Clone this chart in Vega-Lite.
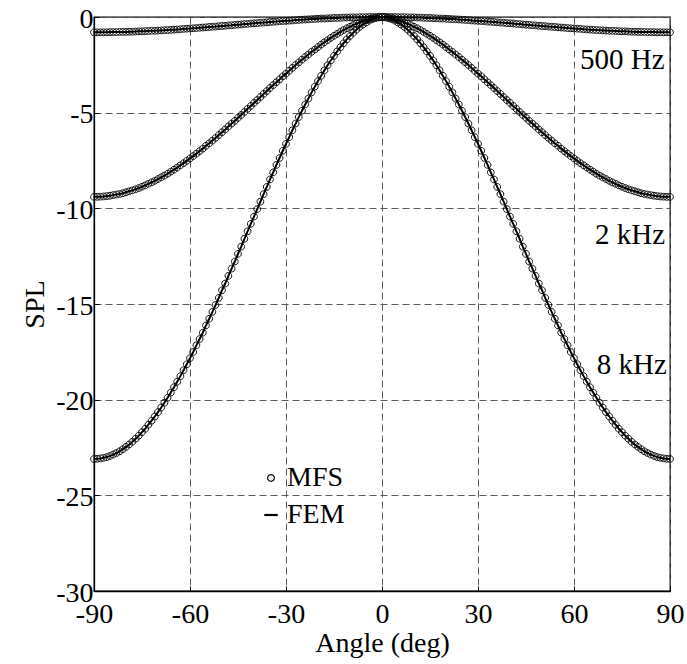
{
"$schema": "https://vega.github.io/schema/vega-lite/v6.json",
"width": 576,
"height": 574,
"autosize": "none",
"padding": {"left": 94, "top": 17, "right": 17, "bottom": 73},
"background": "white",
"config": {
  "font": "Liberation Serif",
  "view": {"stroke": "black", "strokeWidth": 1.3},
  "axis": {
    "domainColor": "black", "domainWidth": 1.3,
    "grid": true, "gridColor": "#5a5a5a", "gridDash": [7, 4], "gridWidth": 1,
    "tickColor": "black", "tickSize": -5, "tickWidth": 1,
    "labelFont": "Liberation Serif", "labelFontSize": 28, "labelColor": "black",
    "titleFont": "Liberation Serif", "titleFontSize": 28, "titleFontWeight": "normal", "titleColor": "black"
  },
  "legend": {"labelFont": "Liberation Serif", "labelFontSize": 28, "labelColor": "black"}
},
"datasets": {
  "curves": [
{"a":-90,"p":-0.8,"q":-9.4,"r":-23.1},
{"a":-89,"p":-0.8,"q":-9.4,"r":-23.09},
{"a":-88,"p":-0.8,"q":-9.39,"r":-23.07},
{"a":-87,"p":-0.8,"q":-9.38,"r":-23.04},
{"a":-86,"p":-0.8,"q":-9.36,"r":-23},
{"a":-85,"p":-0.79,"q":-9.34,"r":-22.94},
{"a":-84,"p":-0.79,"q":-9.31,"r":-22.87},
{"a":-83,"p":-0.79,"q":-9.28,"r":-22.79},
{"a":-82,"p":-0.78,"q":-9.25,"r":-22.7},
{"a":-81,"p":-0.78,"q":-9.21,"r":-22.59},
{"a":-80,"p":-0.78,"q":-9.16,"r":-22.47},
{"a":-79,"p":-0.77,"q":-9.11,"r":-22.34},
{"a":-78,"p":-0.77,"q":-9.06,"r":-22.2},
{"a":-77,"p":-0.76,"q":-9,"r":-22.04},
{"a":-76,"p":-0.75,"q":-8.94,"r":-21.88},
{"a":-75,"p":-0.75,"q":-8.87,"r":-21.7},
{"a":-74,"p":-0.74,"q":-8.8,"r":-21.52},
{"a":-73,"p":-0.73,"q":-8.72,"r":-21.31},
{"a":-72,"p":-0.72,"q":-8.64,"r":-21.1},
{"a":-71,"p":-0.72,"q":-8.56,"r":-20.88},
{"a":-70,"p":-0.71,"q":-8.47,"r":-20.65},
{"a":-69,"p":-0.7,"q":-8.38,"r":-20.41},
{"a":-68,"p":-0.69,"q":-8.29,"r":-20.16},
{"a":-67,"p":-0.68,"q":-8.19,"r":-19.9},
{"a":-66,"p":-0.67,"q":-8.08,"r":-19.63},
{"a":-65,"p":-0.66,"q":-7.98,"r":-19.35},
{"a":-64,"p":-0.65,"q":-7.87,"r":-19.06},
{"a":-63,"p":-0.64,"q":-7.75,"r":-18.77},
{"a":-62,"p":-0.62,"q":-7.64,"r":-18.46},
{"a":-61,"p":-0.61,"q":-7.52,"r":-18.15},
{"a":-60,"p":-0.6,"q":-7.39,"r":-17.83},
{"a":-59,"p":-0.59,"q":-7.27,"r":-17.51},
{"a":-58,"p":-0.58,"q":-7.14,"r":-17.16},
{"a":-57,"p":-0.56,"q":-7.01,"r":-16.83},
{"a":-56,"p":-0.55,"q":-6.88,"r":-16.5},
{"a":-55,"p":-0.54,"q":-6.73,"r":-16.12},
{"a":-54,"p":-0.52,"q":-6.6,"r":-15.77},
{"a":-53,"p":-0.51,"q":-6.46,"r":-15.41},
{"a":-52,"p":-0.5,"q":-6.32,"r":-15.05},
{"a":-51,"p":-0.48,"q":-6.17,"r":-14.68},
{"a":-50,"p":-0.47,"q":-6.02,"r":-14.28},
{"a":-49,"p":-0.46,"q":-5.88,"r":-13.93},
{"a":-48,"p":-0.44,"q":-5.72,"r":-13.53},
{"a":-47,"p":-0.43,"q":-5.57,"r":-13.15},
{"a":-46,"p":-0.41,"q":-5.43,"r":-12.78},
{"a":-45,"p":-0.4,"q":-5.27,"r":-12.38},
{"a":-44,"p":-0.39,"q":-5.12,"r":-12},
{"a":-43,"p":-0.37,"q":-4.96,"r":-11.59},
{"a":-42,"p":-0.36,"q":-4.8,"r":-11.2},
{"a":-41,"p":-0.34,"q":-4.65,"r":-10.81},
{"a":-40,"p":-0.33,"q":-4.49,"r":-10.43},
{"a":-39,"p":-0.32,"q":-4.34,"r":-10.04},
{"a":-38,"p":-0.3,"q":-4.18,"r":-9.65},
{"a":-37,"p":-0.29,"q":-4.02,"r":-9.26},
{"a":-36,"p":-0.28,"q":-3.87,"r":-8.88},
{"a":-35,"p":-0.26,"q":-3.71,"r":-8.49},
{"a":-34,"p":-0.25,"q":-3.56,"r":-8.12},
{"a":-33,"p":-0.24,"q":-3.41,"r":-7.73},
{"a":-32,"p":-0.22,"q":-3.26,"r":-7.37},
{"a":-31,"p":-0.21,"q":-3.1,"r":-6.99},
{"a":-30,"p":-0.2,"q":-2.96,"r":-6.63},
{"a":-29,"p":-0.19,"q":-2.81,"r":-6.28},
{"a":-28,"p":-0.18,"q":-2.66,"r":-5.92},
{"a":-27,"p":-0.16,"q":-2.51,"r":-5.57},
{"a":-26,"p":-0.15,"q":-2.37,"r":-5.23},
{"a":-25,"p":-0.14,"q":-2.23,"r":-4.9},
{"a":-24,"p":-0.13,"q":-2.09,"r":-4.57},
{"a":-23,"p":-0.12,"q":-1.96,"r":-4.26},
{"a":-22,"p":-0.11,"q":-1.82,"r":-3.94},
{"a":-21,"p":-0.1,"q":-1.7,"r":-3.64},
{"a":-20,"p":-0.09,"q":-1.57,"r":-3.35},
{"a":-19,"p":-0.08,"q":-1.44,"r":-3.07},
{"a":-18,"p":-0.08,"q":-1.32,"r":-2.79},
{"a":-17,"p":-0.07,"q":-1.21,"r":-2.52},
{"a":-16,"p":-0.06,"q":-1.09,"r":-2.27},
{"a":-15,"p":-0.05,"q":-0.98,"r":-2.03},
{"a":-14,"p":-0.05,"q":-0.88,"r":-1.8},
{"a":-13,"p":-0.04,"q":-0.78,"r":-1.58},
{"a":-12,"p":-0.03,"q":-0.68,"r":-1.37},
{"a":-11,"p":-0.03,"q":-0.59,"r":-1.17},
{"a":-10,"p":-0.02,"q":-0.51,"r":-0.99},
{"a":-9,"p":-0.02,"q":-0.42,"r":-0.82},
{"a":-8,"p":-0.02,"q":-0.35,"r":-0.66},
{"a":-7,"p":-0.01,"q":-0.28,"r":-0.52},
{"a":-6,"p":-0.01,"q":-0.22,"r":-0.4},
{"a":-5,"p":-0.01,"q":-0.16,"r":-0.29},
{"a":-4,"p":0,"q":-0.11,"r":-0.19},
{"a":-3,"p":0,"q":-0.07,"r":-0.11},
{"a":-2,"p":0,"q":-0.04,"r":-0.06},
{"a":-1,"p":0,"q":-0.01,"r":-0.02},
{"a":0,"p":0,"q":0,"r":0},
{"a":1,"p":0,"q":-0.01,"r":-0.02},
{"a":2,"p":0,"q":-0.04,"r":-0.06},
{"a":3,"p":0,"q":-0.07,"r":-0.11},
{"a":4,"p":0,"q":-0.11,"r":-0.19},
{"a":5,"p":-0.01,"q":-0.16,"r":-0.29},
{"a":6,"p":-0.01,"q":-0.22,"r":-0.4},
{"a":7,"p":-0.01,"q":-0.28,"r":-0.52},
{"a":8,"p":-0.02,"q":-0.35,"r":-0.66},
{"a":9,"p":-0.02,"q":-0.42,"r":-0.82},
{"a":10,"p":-0.02,"q":-0.51,"r":-0.99},
{"a":11,"p":-0.03,"q":-0.59,"r":-1.17},
{"a":12,"p":-0.03,"q":-0.68,"r":-1.37},
{"a":13,"p":-0.04,"q":-0.78,"r":-1.58},
{"a":14,"p":-0.05,"q":-0.88,"r":-1.8},
{"a":15,"p":-0.05,"q":-0.98,"r":-2.03},
{"a":16,"p":-0.06,"q":-1.09,"r":-2.27},
{"a":17,"p":-0.07,"q":-1.21,"r":-2.52},
{"a":18,"p":-0.08,"q":-1.32,"r":-2.79},
{"a":19,"p":-0.08,"q":-1.44,"r":-3.07},
{"a":20,"p":-0.09,"q":-1.57,"r":-3.35},
{"a":21,"p":-0.1,"q":-1.7,"r":-3.64},
{"a":22,"p":-0.11,"q":-1.82,"r":-3.94},
{"a":23,"p":-0.12,"q":-1.96,"r":-4.26},
{"a":24,"p":-0.13,"q":-2.09,"r":-4.57},
{"a":25,"p":-0.14,"q":-2.23,"r":-4.9},
{"a":26,"p":-0.15,"q":-2.37,"r":-5.23},
{"a":27,"p":-0.16,"q":-2.51,"r":-5.57},
{"a":28,"p":-0.18,"q":-2.66,"r":-5.92},
{"a":29,"p":-0.19,"q":-2.81,"r":-6.28},
{"a":30,"p":-0.2,"q":-2.96,"r":-6.63},
{"a":31,"p":-0.21,"q":-3.1,"r":-6.99},
{"a":32,"p":-0.22,"q":-3.26,"r":-7.37},
{"a":33,"p":-0.24,"q":-3.41,"r":-7.73},
{"a":34,"p":-0.25,"q":-3.56,"r":-8.12},
{"a":35,"p":-0.26,"q":-3.71,"r":-8.49},
{"a":36,"p":-0.28,"q":-3.87,"r":-8.88},
{"a":37,"p":-0.29,"q":-4.02,"r":-9.26},
{"a":38,"p":-0.3,"q":-4.18,"r":-9.65},
{"a":39,"p":-0.32,"q":-4.34,"r":-10.04},
{"a":40,"p":-0.33,"q":-4.49,"r":-10.43},
{"a":41,"p":-0.34,"q":-4.65,"r":-10.81},
{"a":42,"p":-0.36,"q":-4.8,"r":-11.2},
{"a":43,"p":-0.37,"q":-4.96,"r":-11.59},
{"a":44,"p":-0.39,"q":-5.12,"r":-12},
{"a":45,"p":-0.4,"q":-5.27,"r":-12.38},
{"a":46,"p":-0.41,"q":-5.43,"r":-12.78},
{"a":47,"p":-0.43,"q":-5.57,"r":-13.15},
{"a":48,"p":-0.44,"q":-5.72,"r":-13.53},
{"a":49,"p":-0.46,"q":-5.88,"r":-13.93},
{"a":50,"p":-0.47,"q":-6.02,"r":-14.28},
{"a":51,"p":-0.48,"q":-6.17,"r":-14.68},
{"a":52,"p":-0.5,"q":-6.32,"r":-15.05},
{"a":53,"p":-0.51,"q":-6.46,"r":-15.41},
{"a":54,"p":-0.52,"q":-6.6,"r":-15.77},
{"a":55,"p":-0.54,"q":-6.73,"r":-16.12},
{"a":56,"p":-0.55,"q":-6.88,"r":-16.5},
{"a":57,"p":-0.56,"q":-7.01,"r":-16.83},
{"a":58,"p":-0.58,"q":-7.14,"r":-17.16},
{"a":59,"p":-0.59,"q":-7.27,"r":-17.51},
{"a":60,"p":-0.6,"q":-7.39,"r":-17.83},
{"a":61,"p":-0.61,"q":-7.52,"r":-18.15},
{"a":62,"p":-0.62,"q":-7.64,"r":-18.46},
{"a":63,"p":-0.64,"q":-7.75,"r":-18.77},
{"a":64,"p":-0.65,"q":-7.87,"r":-19.06},
{"a":65,"p":-0.66,"q":-7.98,"r":-19.35},
{"a":66,"p":-0.67,"q":-8.08,"r":-19.63},
{"a":67,"p":-0.68,"q":-8.19,"r":-19.9},
{"a":68,"p":-0.69,"q":-8.29,"r":-20.16},
{"a":69,"p":-0.7,"q":-8.38,"r":-20.41},
{"a":70,"p":-0.71,"q":-8.47,"r":-20.65},
{"a":71,"p":-0.72,"q":-8.56,"r":-20.88},
{"a":72,"p":-0.72,"q":-8.64,"r":-21.1},
{"a":73,"p":-0.73,"q":-8.72,"r":-21.31},
{"a":74,"p":-0.74,"q":-8.8,"r":-21.52},
{"a":75,"p":-0.75,"q":-8.87,"r":-21.7},
{"a":76,"p":-0.75,"q":-8.94,"r":-21.88},
{"a":77,"p":-0.76,"q":-9,"r":-22.04},
{"a":78,"p":-0.77,"q":-9.06,"r":-22.2},
{"a":79,"p":-0.77,"q":-9.11,"r":-22.34},
{"a":80,"p":-0.78,"q":-9.16,"r":-22.47},
{"a":81,"p":-0.78,"q":-9.21,"r":-22.59},
{"a":82,"p":-0.78,"q":-9.25,"r":-22.7},
{"a":83,"p":-0.79,"q":-9.28,"r":-22.79},
{"a":84,"p":-0.79,"q":-9.31,"r":-22.87},
{"a":85,"p":-0.79,"q":-9.34,"r":-22.94},
{"a":86,"p":-0.8,"q":-9.36,"r":-23},
{"a":87,"p":-0.8,"q":-9.38,"r":-23.04},
{"a":88,"p":-0.8,"q":-9.39,"r":-23.07},
{"a":89,"p":-0.8,"q":-9.4,"r":-23.09},
{"a":90,"p":-0.8,"q":-9.4,"r":-23.1}
  ],
  "labels": [
    {"t": "500 Hz"}
  ],
  "labels2": [
    {"t": "2 kHz"}
  ],
  "labels8": [
    {"t": "8 kHz"}
  ]
},
"layer": [
  {
    "data": {"name": "curves"},
    "transform": [{"fold": ["p", "q", "r"], "as": ["f", "v"]}],
    "mark": {"type": "point", "filled": false, "stroke": "#111111", "strokeWidth": 1, "opacity": 1, "size": 150},
    "encoding": {
      "x": {"field": "a", "type": "quantitative",
            "scale": {"domain": [-90, 90], "nice": false, "zero": false},
            "axis": {"values": [-90, -60, -30, 0, 30, 60, 90], "title": "Angle (deg)", "labelPadding": 14, "titlePadding": 1, "labelFlush": false, "labelExpr": "datum.value + ''"}},
      "y": {"field": "v", "type": "quantitative",
            "scale": {"domain": [-30, 0], "nice": false},
            "axis": {"values": [-30, -25, -20, -15, -10, -5, 0], "title": "SPL", "labelPadding": 6, "titlePadding": 6, "labelFlush": false, "labelOffset": 2, "labelExpr": "datum.value + ''"}},
      "detail": {"field": "f"},
      "shape": {"datum": "MFS",
                "scale": {"domain": ["MFS", "FEM"], "range": ["M-0.55,0A0.55,0.55 0 1,0 0.55,0A0.55,0.55 0 1,0 -0.55,0Z", "M-1,-0.08H1V0.08H-1Z"]},
                "legend": {"title": null, "orient": "none", "legendX": 163, "legendY": 447, "padding": 0,
                           "symbolSize": 150, "symbolStrokeColor": "black", "symbolStrokeWidth": 1.2, "symbolFillColor": "transparent",
                           "labelOffset": 2, "rowPadding": 9, "labelFontSize": 28, "labelFont": "Liberation Serif"}}
    }
  },
  {
    "data": {"name": "curves"},
    "transform": [{"fold": ["p", "q", "r"], "as": ["f", "v"]}],
    "mark": {"type": "line", "color": "black", "strokeWidth": 2},
    "encoding": {
      "x": {"field": "a", "type": "quantitative"},
      "y": {"field": "v", "type": "quantitative"},
      "detail": {"field": "f"}
    }
  },
  {
    "data": {"name": "labels"},
    "mark": {"type": "text", "align": "right", "baseline": "middle", "font": "Liberation Serif", "fontSize": 29, "color": "black"},
    "encoding": {"x": {"datum": 88.3}, "y": {"datum": -2.25}, "text": {"field": "t"}}
  },
  {
    "data": {"name": "labels2"},
    "mark": {"type": "text", "align": "right", "baseline": "middle", "font": "Liberation Serif", "fontSize": 29, "color": "black"},
    "encoding": {"x": {"datum": 88.5}, "y": {"datum": -11.39}, "text": {"field": "t"}}
  },
  {
    "data": {"name": "labels8"},
    "mark": {"type": "text", "align": "right", "baseline": "middle", "font": "Liberation Serif", "fontSize": 29, "color": "black"},
    "encoding": {"x": {"datum": 89}, "y": {"datum": -18.19}, "text": {"field": "t"}}
  }
]
}
